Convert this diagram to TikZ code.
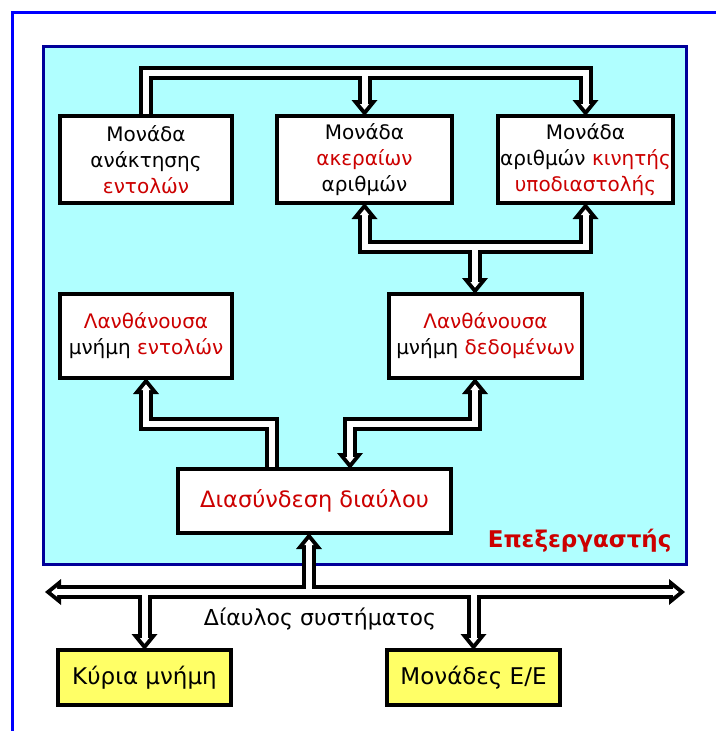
\documentclass[tikz,border=0pt]{standalone}
\usepackage{fontspec}
\setmainfont{DejaVu Sans}
\usetikzlibrary{arrows.meta,positioning}
\definecolor{cpuwash}{HTML}{B0FFFF}
\definecolor{cpuline}{HTML}{000099}
\definecolor{frameblue}{HTML}{0000FF}
\definecolor{labelred}{HTML}{CC0000}
\definecolor{memyellow}{HTML}{FFFF66}
\pgfdeclarelayer{back}
\pgfdeclarelayer{wires}
\pgfsetlayers{back,wires,main}

\newcommand{\hl}[1]{\textcolor{labelred}{#1}}

% every bus once, drawn twice: black body, then white core
\newcommand{\buslines}[1]{%
  \draw[#1] (fetch.north) |- (alutop) -- (float.north);
  \draw[#1] (int.north |- alutop) -- (int.north);
  \draw[#1] (alujn) -| (int.south);
  \draw[#1] (alujn) -| (float.south);
  \draw[#1] (alujn) -- (alujn |- data.north);
  \draw[#1] (ifleft |- busif.north) -- (ifleft) -| (instr.south);
  \draw[#1] (ifmid) -- (ifright) -- (ifright |- data.south);
  \draw[#1] (ifmid) -- (ifdown) -- (ifdown |- busif.north);
  \draw[#1] (sysjn) -- (sysjn |- busif.south);
  \draw[#1] (sysjn) -- (busl);
  \draw[#1] (sysjn) -- (busr);
  \draw[#1] (main.north |- sysjn) -- (main.north);
  \draw[#1] (io.north |- sysjn) -- (io.north);
}

\begin{document}
\begin{tikzpicture}[
  x=1pt, y=-1pt,
  every node/.style={align=center, font=\fontsize{20}{26}\selectfont},
  box/.style={draw=black, line width=4pt, fill=white, inner sep=0pt, outer sep=0pt,
    minimum width=172pt, minimum height=87pt},
  membox/.style={box, fill=memyellow, minimum width=173pt, minimum height=55pt,
    font=\fontsize{23}{28}\selectfont},
  busout/.style={line width=14pt, draw=black,
    -{Triangle[length=16pt,width=26pt,line width=0pt]}},
  busin/.style={line width=6pt, draw=white, shorten >=6.3pt,
    -{Triangle[length=5.7pt,width=9.3pt,line width=0pt]}}
]
\useasboundingbox (0,0) rectangle (715,731);

% processor units
\node[box] (fetch) at (146,159.5) {Μονάδα\\ανάκτησης\\\hl{εντολών}};
\node[box, minimum width=175pt, right=45pt of fetch] (int) {Μονάδα\\\hl{ακεραίων}\\αριθμών};
\node[box, minimum width=175pt, right=46pt of int] (float) {Μονάδα\\αριθμών \hl{κινητής}\\\hl{υποδιαστολής}};
\node[box, minimum height=84pt, below=91pt of fetch] (instr) {\hl{Λανθάνουσα}\\μνήμη \hl{εντολών}};
\node[box, minimum width=193pt, minimum height=84pt] (data) at (485.5,336) {\hl{Λανθάνουσα}\\μνήμη \hl{δεδομένων}};
\node[box, minimum width=273pt, minimum height=64pt, font=\fontsize{22.5}{28}\selectfont] (busif) at (314.5,501) {\hl{Διασύνδεση διαύλου}};
\node[font=\bfseries\fontsize{23}{28}\selectfont, text=labelred, anchor=base east] (cpu) at (675,547) {Επεξεργαστής};

% outside the processor
\node[membox] (main) at (144.5,677.5) {Κύρια μνήμη};
\node[membox, right=156pt of main] (io) {Μονάδες Ε/Ε};
\node[font=\fontsize{22}{26}\selectfont, anchor=base] (sysbus) at (320,625) {Δίαυλος συστήματος};

\coordinate (alutop) at (585.5,73);
\coordinate (alujn) at (475,247);
\coordinate (ifleft) at (272,424);
\coordinate (ifmid) at (412,424);
\coordinate (ifright) at (475,424);
\coordinate (ifdown) at (350,424);
\coordinate (sysjn) at (309,592);
\coordinate (busl) at (45,592);
\coordinate (busr) at (685,592);

\begin{pgfonlayer}{back}
  \fill[white] (0,0) rectangle (715,731);
  \draw[frameblue, line width=3pt] (12,12) rectangle (740,760);
  \draw[cpuline, fill=cpuwash, line width=3.5pt] (43.5,46.5) rectangle (686.5,564.5);
\end{pgfonlayer}

\begin{pgfonlayer}{wires}
  \buslines{busout}
  \buslines{busin}
\end{pgfonlayer}
\end{tikzpicture}
\end{document}
